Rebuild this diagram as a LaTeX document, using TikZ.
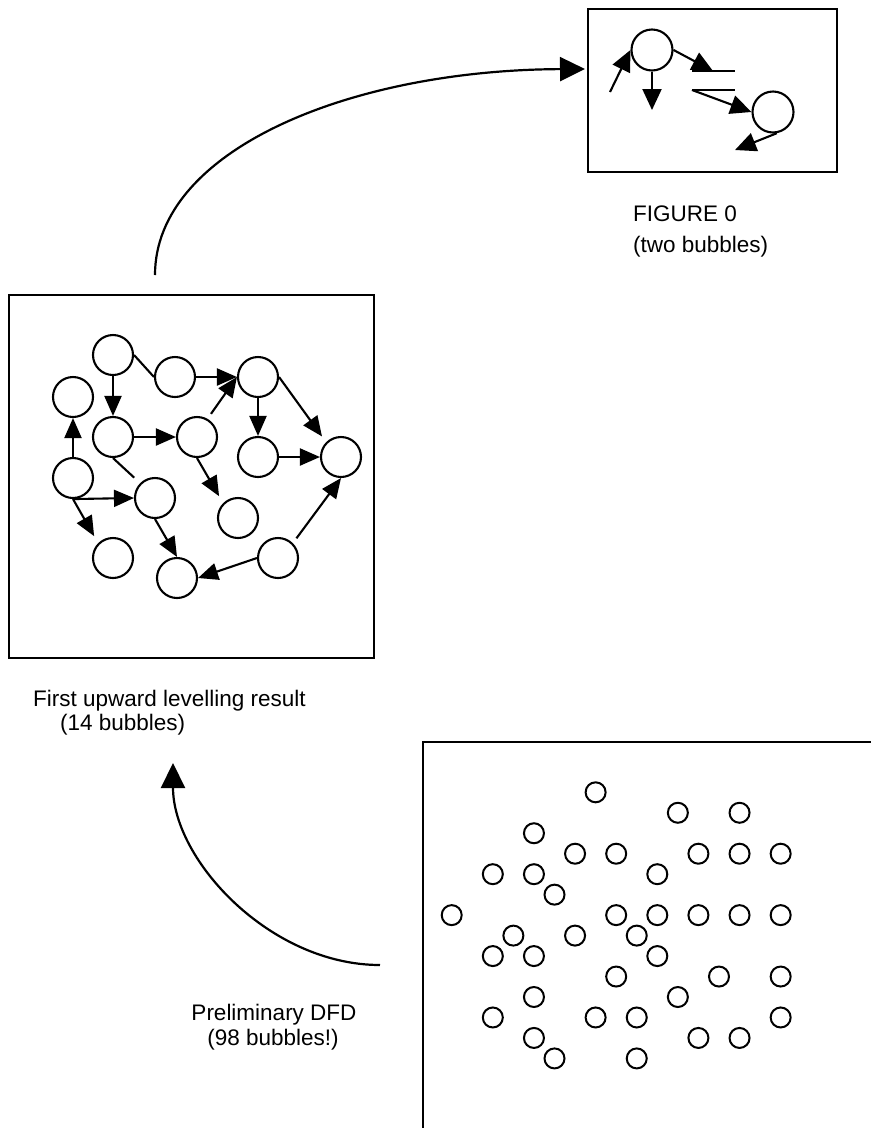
\documentclass[tikz,border=0pt]{standalone}
\usepackage{fontspec}
\setmainfont{Liberation Sans}
\usetikzlibrary{arrows.meta}

\begin{document}
\begin{tikzpicture}[
    x=1pt, y=-1pt,
    % --- Styles ---
    frame/.style={draw, line width=2.2pt},
    % Bubbles of the levelled diagrams
    big bubble/.style={circle, draw, line width=2.1pt, minimum size=40pt, inner sep=0pt},
    top bubble/.style={big bubble, minimum size=41pt},
    % Bubbles of the preliminary DFD
    small bubble/.style={circle, draw, line width=2pt, minimum size=20pt, inner sep=0pt},
    flow/.style={line width=2.1pt, -{Triangle[length=20pt,width=17pt]}},
    top flow/.style={line width=2.1pt, -{Triangle[length=21pt,width=19pt]}},
    plain flow/.style={line width=2.1pt},
    level arrow/.style={line width=2.2pt, -{Triangle[length=25pt,width=24pt]}},
    caption/.style={font=\fontsize{22.5}{26}\selectfont, anchor=base west, inner sep=0pt}
]

%================CONFIGURATION================
% Grid of the preliminary DFD
\def\dfdx{451.7}
\def\dfdy{792.3}
\def\dfdsx{20.56}
\def\dfdsy{20.47}
%=============================================

\useasboundingbox (0,0) rectangle (871,1128);

% --- Frames ---
\draw[frame] (588,9) rectangle (837,172);
\draw[frame] (9,295) rectangle (374,658);
\draw[frame] (423,1128) -- (423,742) -- (871,742);

% --- FIGURE 0 (two bubbles) ---
\node[top bubble] (f1) at (652,50) {};
\node[top bubble] (f2) at (773,112) {};
\coordinate (fin) at (610,92);
\coordinate (fout1) at (652,110);
\coordinate (fout2) at (735,150);
\coordinate (st1) at (692,71);
\coordinate (st2) at (735,71);
\coordinate (st3) at (692,90);
\coordinate (st4) at (735,90);
\coordinate (stin) at (713,71);

\draw[top flow] (fin) -- (f1.west);
\draw[top flow] (f1.south) -- (fout1);
\draw[top flow] (f1.east) -- (stin);
\draw[plain flow] (st1) -- (st2);
\draw[plain flow] (st3) -- (st4);
\draw[top flow] (st3) -- (f2.west);
\draw[top flow] (f2.-80) -- (fout2);

% --- First upward levelling (14 bubbles) ---
\foreach \name/\px/\py in {p1/113/355, p2/175/377, p3/258/377, p4/73/397,
    p5/113/437, p6/197/437, p7/258/457, p8/341/457, p9/73/478,
    p10/155/498, p11/238/518, p12/113/558, p13/177/578, p14/278/558}
    \node[big bubble] (\name) at (\px,\py) {};

\draw[flow] (p1) -- (p5);
\draw[plain flow] (p1.east) -- (p2.west);
\draw[flow] (p2) -- (p3);
\draw[flow] (p9) -- (p4);
\draw[flow] (p5) -- (p6);
\draw[plain flow, shorten >=8pt] (p5.south) -- (p10.north west);
\draw[flow, shorten >=8pt] (p6.south) -- (p11.north west);
\draw[flow, shorten <=6pt] (p6.60) -- (p3.west);
\draw[flow] (p3) -- (p7);
\draw[flow, shorten >=7pt] (p3.east) -- (p8.north west);
\draw[flow] (p7) -- (p8);
\draw[flow] (p9.south) -- (p10.west);
\draw[flow, shorten >=8pt] (p9.south) -- (p12.north west);
\draw[flow] (p10.south) -- (p13.north);
\draw[flow] (p14.west) -- (p13.east);
\draw[flow, shorten <=6pt] (p14.north east) -- (p8.south);

% --- Preliminary DFD ---
\foreach \i/\j [count=\c] in {7/0, 11/1, 14/1, 4/2, 6/3, 8/3, 12/3, 14/3, 16/3,
    2/4, 4/4, 10/4, 5/5, 0/6, 8/6, 10/6, 12/6, 14/6, 16/6, 3/7, 6/7, 9/7,
    2/8, 4/8, 10/8, 8/9, 13/9, 16/9, 4/10, 11/10, 2/11, 7/11, 9/11, 16/11,
    4/12, 12/12, 14/12, 5/13, 9/13}
    \node[small bubble] (d\c) at ({\dfdx+\i*\dfdsx},{\dfdy+\j*\dfdsy}) {};

% --- Levelling arrows ---
\coordinate (lift1 start) at (155,275);
\coordinate (lift1 end) at (585,69);
\draw[level arrow] (lift1 start) .. controls (155,150) and (350,70) .. (lift1 end);

\coordinate (lift0 start) at (380,965);
\coordinate (lift0 end) at (173,763);
\draw[level arrow] (lift0 start) .. controls (270,965) and (173,860) .. (lift0 end);

% --- Captions ---
\node[caption] (cap0a) at (633,221) {FIGURE 0};
\node[caption] (cap0b) at (633,252) {(two bubbles)};
\node[caption] (cap1a) at (33,706) {First upward levelling result};
\node[caption] (cap1b) at (60,730) {(14 bubbles)};
\node[caption, anchor=base] (cap2a) at (274,1020) {Preliminary DFD};
\node[caption, anchor=base] (cap2b) at (273,1045) {(98 bubbles!)};

\end{tikzpicture}
\end{document}
